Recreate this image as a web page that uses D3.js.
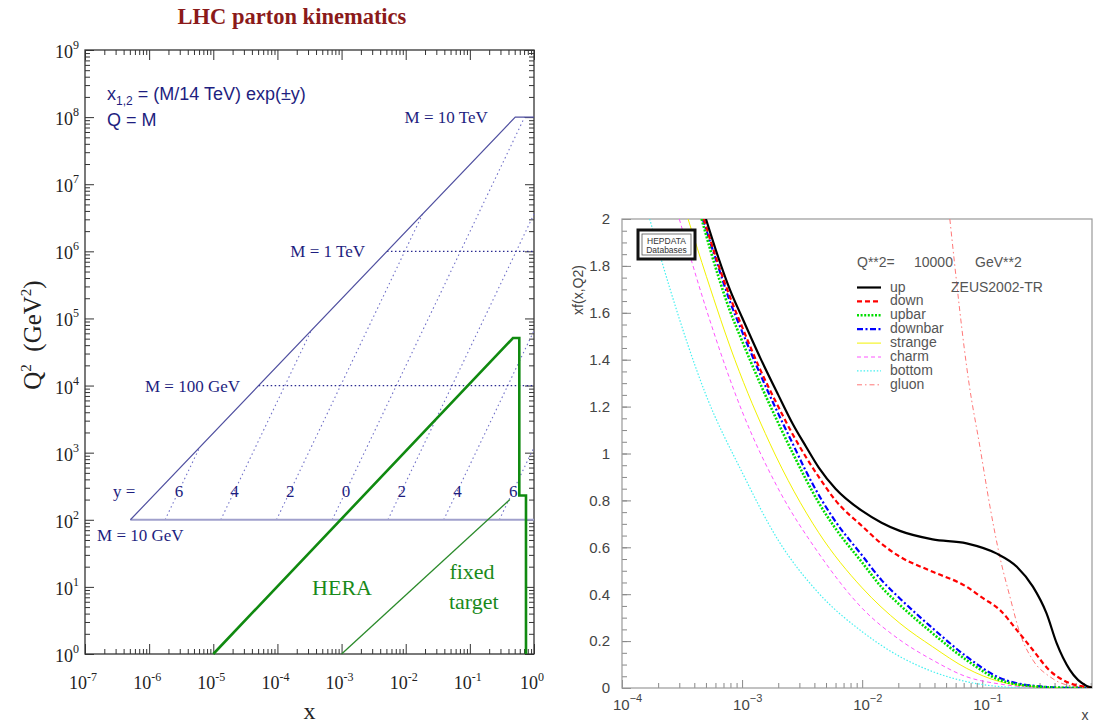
<!DOCTYPE html>
<html>
<head>
<meta charset="utf-8">
<script src="https://cdn.jsdelivr.net/npm/d3@7"></script>
<style>
  body { margin: 0; background: #fff; }
  svg { display: block; }
</style>
</head>
<body>
<div id="chart"></div>
<script>
// ---------- left panel data (x, Q^2) ----------
const lhcEdge = [[5.102e-7, 1e2], [0.5102, 1e8], [1, 1e8]];      // Q^2 = x s, then M = 10 TeV
const mass10GeV = [[5.102e-7, 1e2], [1, 1e2]];
const massDotted = [
  [[5.102e-5, 1e4], [1, 1e4]],      // M = 100 GeV
  [[5.102e-3, 1e6], [1, 1e6]]       // M = 1 TeV
];
const rapidityLabels = ["6", "4", "2", "0", "2", "4", "6"];
const rapidityLines = [
  [[1.771e-6, 1e2], [6.144e-6, 1204]],
  [[1.308e-5, 1e2], [3.355e-4, 6.575e4]],
  [[9.667e-5, 1e2], [1.832e-2, 3.59e6]],
  [[7.143e-4, 1e2], [0.7143, 1e8]],
  [[5.278e-3, 1e2], [1, 3.59e6]],
  [[3.906e-2, 1e2], [1, 6.575e4]],
  [[0.2882, 1e2], [1, 1204]]
];
const rapidityLabelX = [2.909e-6, 2.150e-5, 1.588e-4, 1.174e-3, 8.672e-3, 6.408e-2, 0.4735];
const heraEdge = [[1e-5, 1], [0.47, 5.1e4], [0.59, 5.1e4], [0.59, 230], [0.75, 230], [0.75, 1]];
const fixedTarget = [[1e-3, 1], [0.42, 200]];

// ---------- right panel data (x, xf(x,Q2)) at Q2 = 10000 GeV2 ----------
const pdfNames = ["up", "down", "upbar", "downbar", "strange", "charm", "bottom", "gluon"];
const upPdf = [[5.0e-4, 2.0], [6.3e-4, 1.84], [7.9e-4, 1.70], [1e-3, 1.58], [1.41e-3, 1.41],
  [2e-3, 1.25], [2.65e-3, 1.125], [3.4e-3, 1.03], [4.35e-3, 0.94], [6e-3, 0.85], [0.01, 0.755],
  [0.0145, 0.705], [0.0206, 0.67], [0.0386, 0.634], [0.074, 0.617], [0.131, 0.574], [0.194, 0.517],
  [0.264, 0.432], [0.343, 0.318], [0.417, 0.19], [0.536, 0.077], [0.74, 0.009], [0.82, 0.002]];
const downPdf = [[4.8e-4, 2.0], [6.3e-4, 1.81], [7.9e-4, 1.67], [1e-3, 1.54], [1.41e-3, 1.36],
  [2e-3, 1.20], [2.65e-3, 1.08], [3.4e-3, 0.985], [4.35e-3, 0.90], [6e-3, 0.80], [0.01, 0.69],
  [0.0145, 0.615], [0.0206, 0.56], [0.0386, 0.496], [0.074, 0.432], [0.1, 0.385], [0.14, 0.333],
  [0.194, 0.247], [0.264, 0.162], [0.36, 0.077], [0.5, 0.027], [0.7, 0.006], [0.82, 0.001]];
const upbarPdf = [[4.6e-4, 2.0], [6.3e-4, 1.76], [7.9e-4, 1.61], [1e-3, 1.48], [1.41e-3, 1.30],
  [2e-3, 1.13], [2.65e-3, 1.00], [3.4e-3, 0.89], [4.35e-3, 0.79], [6e-3, 0.68], [0.01, 0.535],
  [0.0145, 0.43], [0.0206, 0.354], [0.0386, 0.233], [0.074, 0.119], [0.14, 0.034], [0.26, 0.008],
  [0.5, 0.001], [0.82, 0]];
const downbarPdf = [[4.7e-4, 2.0], [6.3e-4, 1.80], [7.9e-4, 1.65], [1e-3, 1.52], [1.41e-3, 1.34],
  [2e-3, 1.17], [2.65e-3, 1.04], [3.4e-3, 0.925], [4.35e-3, 0.823], [6e-3, 0.71], [0.01, 0.565],
  [0.0145, 0.46], [0.0206, 0.382], [0.0386, 0.255], [0.074, 0.134], [0.14, 0.043], [0.26, 0.01],
  [0.5, 0.001], [0.82, 0]];
const strangePdf = [[3.55e-4, 2.0], [5.05e-4, 1.754], [8.7e-4, 1.40], [1.7e-3, 1.044], [4.35e-3, 0.662],
  [0.01, 0.427], [0.0206, 0.276], [0.0386, 0.176], [0.074, 0.084], [0.14, 0.027], [0.26, 0.006],
  [0.5, 0], [0.82, 0]];
const charmPdf = [[3.0e-4, 2.0], [5e-4, 1.62], [1e-3, 1.18], [2e-3, 0.85], [4.35e-3, 0.574],
  [0.01, 0.34], [0.0206, 0.205], [0.0386, 0.119], [0.074, 0.048], [0.14, 0.017], [0.26, 0.003],
  [0.5, 0], [0.82, 0]];
const bottomPdf = [[1.7e-4, 2.0], [2.5e-4, 1.705], [5e-4, 1.25], [1e-3, 0.92], [2e-3, 0.63],
  [4.35e-3, 0.404], [0.01, 0.24], [0.0206, 0.134], [0.0386, 0.07], [0.074, 0.027], [0.14, 0.006],
  [0.26, 0], [0.82, 0]];
const gluonPdf = [[0.0537, 2.0], [0.0775, 1.30], [0.0955, 1.03], [0.116, 0.773], [0.140, 0.56],
  [0.170, 0.389], [0.206, 0.233], [0.264, 0.119], [0.366, 0.048], [0.505, 0.013], [0.82, 0]];
const pdfSeries = [upPdf, downPdf, upbarPdf, downbarPdf, strangePdf, charmPdf, bottomPdf, gluonPdf];

// line styles for the pdf curves (same order as pdfNames)
const pdfStyles = [
  {color: "#000000", width: 2.2, dash: null},
  {color: "#ff0000", width: 2.2, dash: "5,3"},
  {color: "#00dd00", width: 2.6, dash: "2,1.6"},
  {color: "#0000ff", width: 2.2, dash: "6,2.5,2,2.5"},
  {color: "#f2f200", width: 1, dash: null},
  {color: "#ff55ff", width: 1, dash: "4,3"},
  {color: "#44f0f0", width: 1.2, dash: "1.5,1.8"},
  {color: "#ff7777", width: 1, dash: "5,3,1.5,3"}
];

const svg = d3.select("#chart").append("svg")
    .attr("width", 1093)
    .attr("height", 725);

const serif = "'Liberation Serif', 'Times New Roman', serif";
const sans = "'Liberation Sans', Arial, sans-serif";
const navy = "#1e1e80";

// =================== LEFT PANEL ===================
const L = {left: 85, right: 534, top: 50, bottom: 654};
const xL = d3.scaleLog().domain([1e-7, 1]).range([L.left, L.right]);
const yL = d3.scaleLog().domain([1, 1e9]).range([L.bottom, L.top]);
const lineL = d3.line().x(d => xL(d[0])).y(d => yL(d[1]));

svg.append("text")
    .attr("x", 292).attr("y", 24)
    .attr("text-anchor", "middle")
    .style("font-family", serif).style("font-weight", "bold").style("font-size", "22.5px")
    .style("fill", "#8b1a1a")
    .text("LHC parton kinematics");

const isDecade = v => Math.abs(Math.log10(v) - Math.round(Math.log10(v))) < 1e-6;
const xTicksL = xL.ticks();
const yTicksL = yL.ticks();

// ticks on all four sides, pointing inward
function logTicks(g, axis, values, majorLen, minorLen) {
  g.append("g").call(axis.tickValues(values.filter(isDecade)).tickSize(-majorLen).tickFormat(""));
  g.append("g").call(axis.tickValues(values.filter(v => !isDecade(v))).tickSize(-minorLen).tickFormat(""));
}
const axL = svg.append("g").attr("class", "axL");
logTicks(axL.append("g").attr("transform", `translate(0,${L.bottom})`), d3.axisBottom(xL), xTicksL, 10, 5);
logTicks(axL.append("g").attr("transform", `translate(0,${L.top})`), d3.axisTop(xL), xTicksL, 10, 5);
logTicks(axL.append("g").attr("transform", `translate(${L.left},0)`), d3.axisLeft(yL), yTicksL, 9, 5);
logTicks(axL.append("g").attr("transform", `translate(${L.right},0)`), d3.axisRight(yL), yTicksL, 9, 5);
axL.selectAll("path.domain").remove();
axL.selectAll("line").attr("stroke", "#333").attr("stroke-width", 1);

svg.append("rect")
    .attr("x", L.left).attr("y", L.top)
    .attr("width", L.right - L.left).attr("height", L.bottom - L.top)
    .attr("fill", "none").attr("stroke", "#333").attr("stroke-width", 1.3);

// tick labels 10^n
xTicksL.filter(isDecade).forEach(v => {
  const t = svg.append("text")
      .attr("x", xL(v) - 2).attr("y", L.bottom + 35)
      .attr("text-anchor", "middle")
      .style("font-family", serif).style("font-size", "18px").style("fill", "#222");
  t.append("tspan").text("10");
  t.append("tspan").attr("dy", -8).style("font-size", "12px").text(Math.round(Math.log10(v)));
});
yTicksL.filter(isDecade).forEach(v => {
  const t = svg.append("text")
      .attr("x", L.left - 6).attr("y", yL(v) + 8)
      .attr("text-anchor", "end")
      .style("font-family", serif).style("font-size", "18px").style("fill", "#222");
  t.append("tspan").text("10");
  t.append("tspan").attr("dy", -9).style("font-size", "12px").text(Math.round(Math.log10(v)));
});

// axis titles
const q2Label = svg.append("text")
    .attr("transform", `translate(41,335) rotate(-90)`)
    .attr("text-anchor", "middle")
    .style("font-family", serif).style("font-size", "25px").style("fill", "#222");
q2Label.append("tspan").text("Q");
q2Label.append("tspan").attr("dy", -10).style("font-size", "15px").text("2");
q2Label.append("tspan").attr("dy", 10).text("\u00a0\u00a0(GeV");
q2Label.append("tspan").attr("dy", -10).style("font-size", "15px").text("2");
q2Label.append("tspan").attr("dy", 10).text(")");

svg.append("text")
    .attr("x", (L.left + L.right) / 2).attr("y", 719)
    .attr("text-anchor", "middle")
    .style("font-family", serif).style("font-size", "24px").style("fill", "#222")
    .text("x");

// kinematic lines
const plotL = svg.append("g");
rapidityLines.forEach(seg => {
  plotL.append("path").attr("d", lineL(seg))
      .attr("fill", "none").attr("stroke", "#7070c8").attr("stroke-width", 1.1)
      .attr("stroke-dasharray", "1.5,3");
});
massDotted.forEach(seg => {
  plotL.append("path").attr("d", lineL(seg))
      .attr("fill", "none").attr("stroke", "#2a2a90").attr("stroke-width", 1.2)
      .attr("stroke-dasharray", "1.5,2.5");
});
plotL.append("path").attr("d", lineL(mass10GeV))
    .attr("fill", "none").attr("stroke", "#a0a0cc").attr("stroke-width", 2);
plotL.append("path").attr("d", lineL(lhcEdge))
    .attr("fill", "none").attr("stroke", "#5050a0").attr("stroke-width", 1.2);
plotL.append("path").attr("d", lineL(heraEdge))
    .attr("fill", "none").attr("stroke", "#108a10").attr("stroke-width", 2.6);
plotL.append("path").attr("d", lineL(fixedTarget))
    .attr("fill", "none").attr("stroke", "#2a8a2a").attr("stroke-width", 1.3);

// labels in the plane
function serifLabel(x, q2, txt, anchor, color, size) {
  return svg.append("text")
      .attr("x", xL(x)).attr("y", yL(q2))
      .attr("dy", "0.35em")
      .attr("text-anchor", anchor)
      .style("font-family", serif).style("font-size", size + "px").style("fill", color)
      .text(txt);
}
serifLabel(0.19, 1e8, "M = 10 TeV", "end", navy, 17);
serifLabel(2.32e-3, 1e6, "M = 1 TeV", "end", navy, 17);
serifLabel(2.61e-5, 1e4, "M = 100 GeV", "end", navy, 17);
serifLabel(1.54e-7, 59, "M = 10 GeV", "start", navy, 17);
serifLabel(2.73e-7, 270, "y =", "start", navy, 17);
rapidityLabels.forEach((lab, i) => serifLabel(rapidityLabelX[i], 270, lab, "middle", navy, 17));
serifLabel(1.016e-3, 10, "HERA", "middle", "#1a8a1a", 22);
serifLabel(0.108, 16.8, "fixed", "middle", "#1a8a1a", 22);
serifLabel(0.115, 6.0, "target", "middle", "#1a8a1a", 22);

const formula = svg.append("text")
    .attr("x", 107).attr("y", 100)
    .style("font-family", sans).style("font-size", "18px").style("fill", navy);
formula.append("tspan").text("x");
formula.append("tspan").attr("dy", 5).style("font-size", "12px").text("1,2");
formula.append("tspan").attr("dy", -5).text(" = (M/14 TeV) exp(\u00b1y)");
svg.append("text")
    .attr("x", 107).attr("y", 126)
    .style("font-family", sans).style("font-size", "18px").style("fill", navy)
    .text("Q = M");

// =================== RIGHT PANEL ===================
const R = {left: 622, right: 1092, top: 219, bottom: 688};
const xR = d3.scaleLog().domain([1e-4, 0.82]).range([R.left, R.right]);
const yR = d3.scaleLinear().domain([0, 2]).range([R.bottom, R.top]);
const grey = "#444";

const axR = svg.append("g");
const xTicksR = xR.ticks();
axR.append("g").attr("transform", `translate(0,${R.bottom})`)
    .call(d3.axisBottom(xR).tickValues(xTicksR.filter(isDecade)).tickSize(-8).tickFormat(""));
axR.append("g").attr("transform", `translate(0,${R.bottom})`)
    .call(d3.axisBottom(xR).tickValues(xTicksR.filter(v => !isDecade(v))).tickSize(-5).tickFormat(""));
axR.append("g").attr("transform", `translate(${R.left},0)`)
    .call(d3.axisLeft(yR).tickValues(d3.range(0, 2.001, 0.2)).tickSize(-9).tickPadding(12)
      .tickFormat(d => d3.format("~g")(+d.toFixed(1))));
axR.append("g").attr("transform", `translate(${R.left},0)`)
    .call(d3.axisLeft(yR).tickValues(d3.range(0, 2.001, 0.05)).tickSize(-5).tickFormat(""));
axR.selectAll("path.domain").remove();
axR.selectAll("line").attr("stroke", "#888");
axR.selectAll("text").style("font-family", sans).style("font-size", "15px").style("fill", grey);

svg.append("rect")
    .attr("x", R.left).attr("y", R.top)
    .attr("width", R.right - R.left).attr("height", R.bottom - R.top)
    .attr("fill", "none").attr("stroke", "#999").attr("stroke-width", 1.2);

xTicksR.filter(isDecade).forEach(v => {
  const t = svg.append("text")
      .attr("x", xR(v) - 9).attr("y", R.bottom + 22)
      .style("font-family", sans).style("font-size", "15px").style("fill", grey);
  t.append("tspan").text("10");
  t.append("tspan").attr("dy", -8).style("font-size", "11px")
      .text("\u2212" + Math.abs(Math.round(Math.log10(v))));
});
svg.append("text")
    .attr("x", 1085).attr("y", 720)
    .attr("text-anchor", "middle")
    .style("font-family", sans).style("font-size", "14px").style("fill", grey)
    .text("x");
svg.append("text")
    .attr("transform", `translate(583,290) rotate(-90)`)
    .attr("text-anchor", "middle")
    .style("font-family", sans).style("font-size", "14px").style("fill", grey)
    .text("xf(x,Q2)");

svg.append("clipPath").attr("id", "clipR")
  .append("rect")
    .attr("x", R.left).attr("y", R.top)
    .attr("width", R.right - R.left).attr("height", R.bottom - R.top);

const lineR = d3.line()
    .x(d => xR(d[0])).y(d => yR(d[1]))
    .curve(d3.curveMonotoneX);

const curves = svg.append("g").attr("clip-path", "url(#clipR)");
// draw back to front so "up" sits on top
pdfSeries.map((s, i) => i).reverse().forEach(i => {
  const st = pdfStyles[i];
  curves.append("path")
      .attr("d", lineR(pdfSeries[i]))
      .attr("fill", "none")
      .attr("stroke", st.color)
      .attr("stroke-width", st.width)
      .attr("stroke-dasharray", st.dash);
});

// HEPDATA stamp
const stamp = svg.append("g");
stamp.append("rect").attr("x", 638).attr("y", 230).attr("width", 57).attr("height", 29)
    .attr("fill", "#fff").attr("stroke", "#111").attr("stroke-width", 3);
stamp.append("rect").attr("x", 642).attr("y", 234).attr("width", 49).attr("height", 21)
    .attr("fill", "none").attr("stroke", "#555").attr("stroke-width", 0.8);
stamp.append("text").attr("x", 666.5).attr("y", 244).attr("text-anchor", "middle")
    .style("font-family", sans).style("font-size", "8.5px").style("fill", "#333").text("HEPDATA");
stamp.append("text").attr("x", 666.5).attr("y", 253).attr("text-anchor", "middle")
    .style("font-family", sans).style("font-size", "8.5px").style("fill", "#333").text("Databases");

// legend
const legend = svg.append("g").style("font-family", sans).style("font-size", "14px").style("fill", "#555");
legend.append("text").attr("x", 857).attr("y", 267).text("Q**2=");
legend.append("text").attr("x", 914).attr("y", 267).text("10000");
legend.append("text").attr("x", 975).attr("y", 267).text("GeV**2");
legend.append("text").attr("x", 951).attr("y", 292).text("ZEUS2002-TR");
pdfNames.forEach((name, i) => {
  const y = 287.5 + i * 13.9;
  const st = pdfStyles[i];
  legend.append("line")
      .attr("x1", 857).attr("x2", 881).attr("y1", y).attr("y2", y)
      .attr("stroke", st.color).attr("stroke-width", st.width)
      .attr("stroke-dasharray", st.dash);
  legend.append("text").attr("x", 890).attr("y", y + 4).text(name);
});
</script>
</body>
</html>
